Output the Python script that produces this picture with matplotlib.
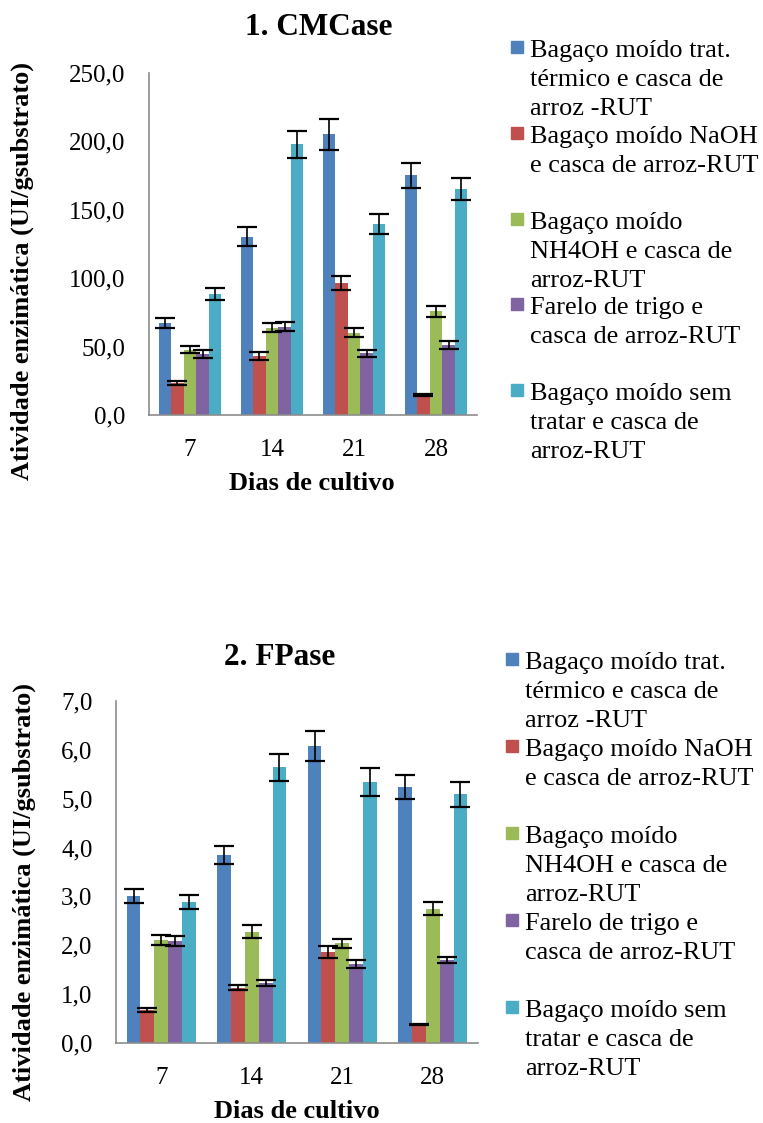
import numpy as np
import matplotlib
matplotlib.use('Agg')
import matplotlib.pyplot as plt
import matplotlib.patches as patch

plt.rcParams['font.family'] = ['Liberation Serif', 'DejaVu Serif']

dias = ['7', '14', '21', '28']
series = ['Bagaço moído trat.\ntérmico e casca de\narroz -RUT',
          'Bagaço moído NaOH\ne casca de arroz-RUT',
          'Bagaço moído\nNH4OH e casca de\narroz-RUT',
          'Farelo de trigo e\ncasca de arroz-RUT',
          'Bagaço moído sem\ntratar e casca de\narroz-RUT']
cores = ['#4F81BD', '#C0504D', '#9BBB59', '#8064A2', '#4BACC6']

# CMCase, one list per series (days 7, 14, 21, 28)
cmc_trat = [67.5, 130.4, 205.2, 175.2]
cmc_naoh = [23.6, 43.1, 96.5, 14.4]
cmc_nh4oh = [47.8, 63.8, 60.2, 75.8]
cmc_farelo = [44.6, 64.6, 45.1, 51.2]
cmc_sem = [88.2, 197.9, 139.6, 165.0]
cmc_err_trat = [3.7, 7.1, 11.2, 9.0]
cmc_err_naoh = [1.5, 2.7, 5.1, 0.6]
cmc_err_nh4oh = [2.7, 3.4, 3.4, 3.9]
cmc_err_farelo = [2.6, 3.4, 2.4, 3.2]
cmc_err_sem = [4.4, 10.0, 7.3, 8.0]

# FPase
fp_trat = [3.01, 3.85, 6.08, 5.24]
fp_naoh = [0.68, 1.13, 1.86, 0.37]
fp_nh4oh = [2.11, 2.28, 2.04, 2.75]
fp_farelo = [2.09, 1.23, 1.62, 1.70]
fp_sem = [2.88, 5.64, 5.34, 5.09]
fp_err_trat = [0.15, 0.19, 0.31, 0.25]
fp_err_naoh = [0.04, 0.05, 0.12, 0.01]
fp_err_nh4oh = [0.11, 0.13, 0.09, 0.14]
fp_err_farelo = [0.10, 0.06, 0.08, 0.07]
fp_err_sem = [0.14, 0.28, 0.29, 0.25]

W, H = 763, 1123
fig = plt.figure(figsize=(W / 100, H / 100), dpi=100)


def px_axes(l, t, r, b):
    return fig.add_axes([l / W, 1 - b / H, (r - l) / W, (b - t) / H])


def draw_chart(ax, vals, errs, ymax, step):
    x = np.arange(len(dias))
    w = 0.153
    for i, (v, e) in enumerate(zip(vals, errs)):
        ax.bar(x + (i - 2) * w, v, w, color=cores[i], linewidth=0, zorder=2)
        ax.errorbar(x + (i - 2) * w, v, yerr=e, fmt='none', ecolor='black',
                    elinewidth=1.2, capsize=7.5, capthick=1.6, zorder=3)
    ax.set_xlim(-0.5, 3.5)
    ax.set_ylim(0, ymax)
    ticks = np.arange(0, ymax + step / 2, step)
    ax.set_yticks(ticks)
    ax.set_yticklabels([('%.1f' % t).replace('.', ',') for t in ticks])
    ax.set_xticks(x)
    ax.set_xticklabels(dias)
    ax.tick_params(length=0, labelsize=18, pad=17)
    for s in ['top', 'right']:
        ax.spines[s].set_visible(False)
    for s in ['left', 'bottom']:
        ax.spines[s].set_color('#8c8c8c')
        ax.spines[s].set_linewidth(1.2)


def draw_legend(x_mark, x_text, y0, step, lstep):
    for i, lab in enumerate(series):
        yb = y0 + i * step
        fig.patches.append(patch.Rectangle((x_mark / W, 1 - (yb - 4) / H),
                                           12 / W, 12 / H,
                                           transform=fig.transFigure,
                                           color=cores[i]))
        for j, linha in enumerate(lab.split('\n')):
            fig.text(x_text / W, 1 - (yb + j * lstep) / H, linha,
                     fontsize=18.9, va='baseline', ha='left')


ax1 = px_axes(149, 73, 477, 415)
draw_chart(ax1, [cmc_trat, cmc_naoh, cmc_nh4oh, cmc_farelo, cmc_sem],
           [cmc_err_trat, cmc_err_naoh, cmc_err_nh4oh, cmc_err_farelo,
            cmc_err_sem], 250, 50)
fig.text(319 / W, 1 - 35 / H, '1. CMCase', fontsize=22.5, weight='bold',
         ha='center', va='baseline')
fig.text(22 / W, 1 - 271 / H, 'Atividade enzimática (UI/gsubstrato)',
         fontsize=19, weight='bold', rotation=90, ha='center', va='center')
fig.text(312 / W, 1 - 484 / H, 'Dias de cultivo', fontsize=19,
         weight='bold', ha='center', va='center')
draw_legend(511, 530, 57, 85.8, 29)

ax2 = px_axes(116, 701, 478, 1043)
draw_chart(ax2, [fp_trat, fp_naoh, fp_nh4oh, fp_farelo, fp_sem],
           [fp_err_trat, fp_err_naoh, fp_err_nh4oh, fp_err_farelo,
            fp_err_sem], 7, 1)
fig.text(280 / W, 1 - 665 / H, '2. FPase', fontsize=22.5, weight='bold',
         ha='center', va='baseline')
fig.text(24 / W, 1 - 892 / H, 'Atividade enzimática (UI/gsubstrato)',
         fontsize=19, weight='bold', rotation=90, ha='center', va='center')
fig.text(297 / W, 1 - 1112 / H, 'Dias de cultivo', fontsize=19,
         weight='bold', ha='center', va='center')
draw_legend(506, 525, 669, 87, 29)

fig.savefig('out.png', dpi=100)
